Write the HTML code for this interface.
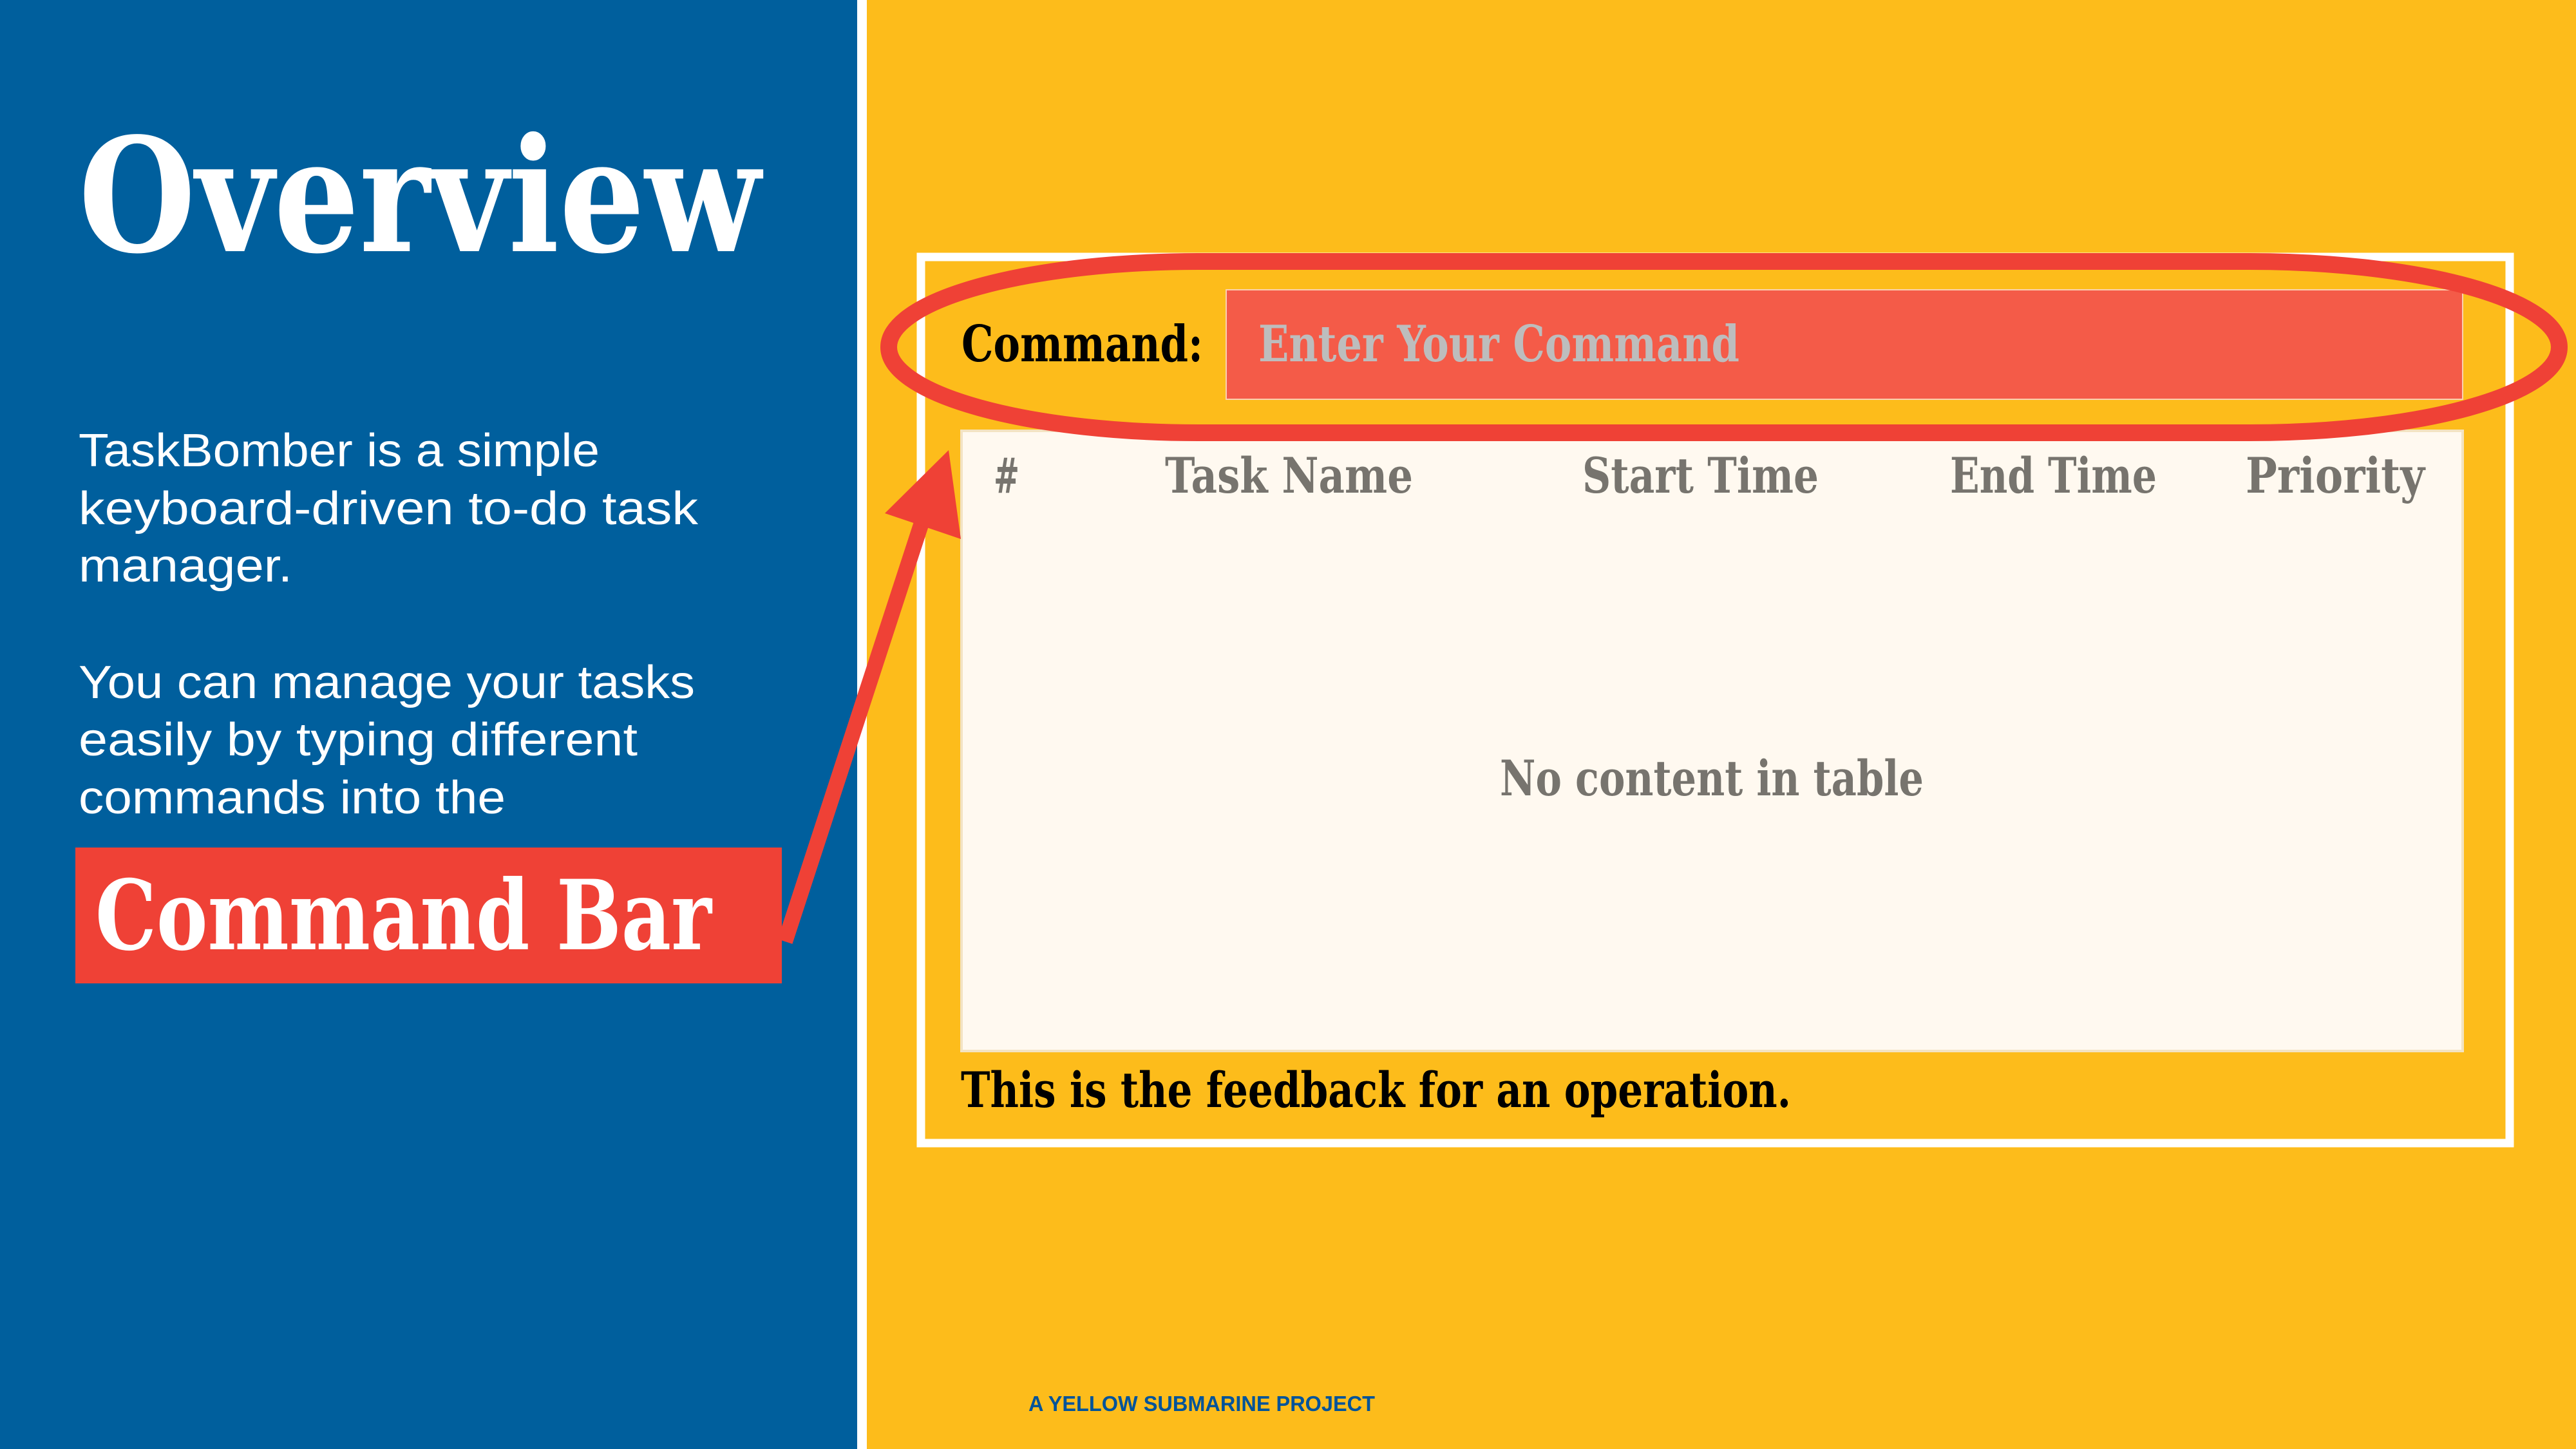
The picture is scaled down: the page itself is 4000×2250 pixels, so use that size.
<!DOCTYPE html>
<html><head><meta charset="utf-8"><style>
html,body{margin:0;padding:0;width:4000px;height:2250px;overflow:hidden;background:#FDBC1B}
svg{display:block}
</style></head><body>
<svg width="4000" height="2250" viewBox="0 0 4000 2250" xmlns="http://www.w3.org/2000/svg">
<rect x="0" y="0" width="4000" height="2250" fill="#FDBC1B"/>
<rect x="0" y="0" width="1331" height="2250" fill="#005F9D"/>
<rect x="1331" y="0" width="15" height="2250" fill="#FFFFFF"/>
<rect x="1430" y="399" width="2467" height="1376" fill="none" stroke="#FFFFFF" stroke-width="13"/>
<rect x="1904" y="450" width="1920" height="170" fill="#F45B48" stroke="#FBD0B0" stroke-width="2"/>
<rect x="1493" y="669" width="2331" height="963" fill="#FFF9F0" stroke="#F3E3C3" stroke-width="4"/>
<rect x="1380" y="406" width="2594" height="266" rx="480" ry="133" fill="none" stroke="#EF4136" stroke-width="26"/>
<line x1="1219" y1="1462" x2="1430" y2="815" stroke="#EF4136" stroke-width="24"/>
<polygon points="1473,699 1374,797 1492,837" fill="#EF4136"/>
<rect x="117" y="1316" width="1097" height="211" fill="#EF4136"/>

<g font-family="'DejaVu Serif','Liberation Serif',serif" font-weight="bold">
<text x="122" y="390" font-size="245" fill="#FFFFFF" textLength="1059" lengthAdjust="spacingAndGlyphs">Overview</text>
<text x="148" y="1474" font-size="150" fill="#FFFFFF" textLength="957" lengthAdjust="spacingAndGlyphs">Command Bar</text>
<text x="1493" y="561" font-size="78" fill="#000000" textLength="375" lengthAdjust="spacingAndGlyphs">Command:</text>
<text x="1954" y="561" font-size="78" fill="#BDBDBD" textLength="747" lengthAdjust="spacingAndGlyphs">Enter Your Command</text>
<g fill="#77746E" font-size="76">
<text x="1543" y="765" textLength="40" lengthAdjust="spacingAndGlyphs">#</text>
<text x="1809" y="765" textLength="385" lengthAdjust="spacingAndGlyphs">Task Name</text>
<text x="2457" y="765" textLength="367" lengthAdjust="spacingAndGlyphs">Start Time</text>
<text x="3028" y="765" textLength="321" lengthAdjust="spacingAndGlyphs">End Time</text>
<text x="3487" y="765" textLength="278" lengthAdjust="spacingAndGlyphs">Priority</text>
<text x="2329" y="1235" textLength="658" lengthAdjust="spacingAndGlyphs">No content in table</text>
</g>
<text x="1492" y="1719" font-size="76" fill="#000000" textLength="1289" lengthAdjust="spacingAndGlyphs">This is the feedback for an operation.</text>
</g>

<g font-family="'Liberation Sans',sans-serif" fill="#FFFFFF" font-size="72">
<text x="122" y="724" textLength="809" lengthAdjust="spacingAndGlyphs">TaskBomber is a simple</text>
<text x="122" y="814" textLength="962" lengthAdjust="spacingAndGlyphs">keyboard-driven to-do task</text>
<text x="122" y="903" textLength="332" lengthAdjust="spacingAndGlyphs">manager.</text>
<text x="122" y="1084" textLength="957" lengthAdjust="spacingAndGlyphs">You can manage your tasks</text>
<text x="122" y="1173" textLength="868" lengthAdjust="spacingAndGlyphs">easily by typing  different</text>
<text x="122" y="1263" textLength="663" lengthAdjust="spacingAndGlyphs">commands into the</text>
</g>
<text x="1597" y="2191" font-family="'Liberation Sans',sans-serif" font-weight="bold" font-size="33" fill="#00539A" textLength="538" lengthAdjust="spacingAndGlyphs">A YELLOW SUBMARINE PROJECT</text>
</svg>
</body></html>
